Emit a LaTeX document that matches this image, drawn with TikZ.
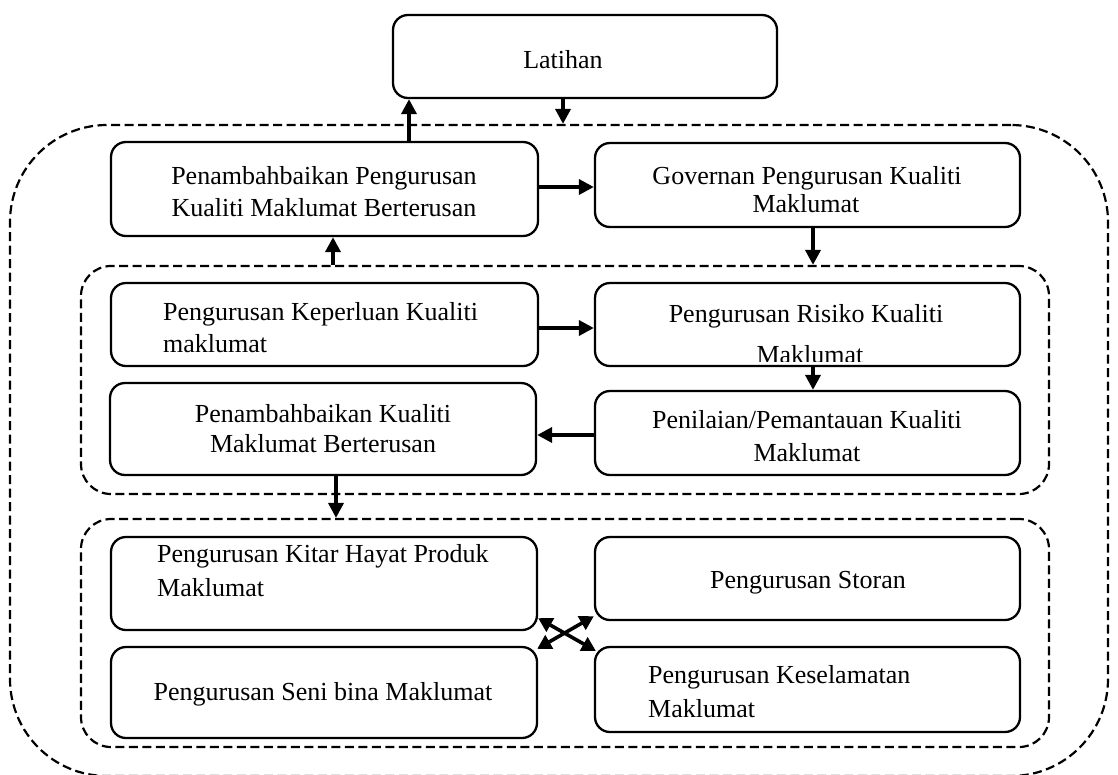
\documentclass[tikz,border=0pt]{standalone}
\usepackage{fontspec}
\setmainfont{Liberation Serif}
\usetikzlibrary{arrows.meta,calc}
\begin{document}
\begin{tikzpicture}[x=1pt,y=-1pt,
  box/.style={draw, line width=2.3pt, rounded corners=15pt, inner sep=0pt},
  grp/.style={draw, line width=2.2pt, dash pattern=on 9pt off 4.5pt, inner sep=0pt},
  lbl/.style={font=\fontsize{26}{30}\selectfont, inner sep=0pt},
  arr/.style={line width=3.6pt, -{Triangle[length=15pt,width=15pt]}},
  darr/.style={line width=3.6pt, {Triangle[length=14pt,width=15pt]}-{Triangle[length=14pt,width=15pt]}}]

\useasboundingbox (0,0) rectangle (1118,774);

% dashed groups
\node[grp, rounded corners=97pt, minimum width=1098pt, minimum height=651pt] (outer) at (559,450.5) {};
\node[grp, rounded corners=30pt, minimum width=968pt, minimum height=228pt] (g1) at (565,380) {};
\node[grp, rounded corners=30pt, minimum width=968pt, minimum height=228pt] (g2) at (565,633) {};

% boxes
\node[box, minimum width=384pt, minimum height=83pt] (lat) at (585,56.5) {};
\node[box, minimum width=427pt, minimum height=94pt] (b1) at (324.5,189) {};
\node[box, minimum width=425pt, minimum height=84pt] (b2) at (807.5,185) {};
\node[box, minimum width=427pt, minimum height=83pt] (b3) at (324.5,324.5) {};
\node[box, minimum width=425pt, minimum height=83pt] (b4) at (807.5,324.5) {};
\node[box, minimum width=426pt, minimum height=92pt] (b5) at (323,429) {};
\node[box, minimum width=425pt, minimum height=84pt] (b6) at (807.5,433) {};
\node[box, minimum width=426pt, minimum height=93pt] (b7) at (324,583.5) {};
\node[box, minimum width=425pt, minimum height=83pt] (b8) at (807.5,578.5) {};
\node[box, minimum width=426pt, minimum height=91pt] (b9) at (324,692.5) {};
\node[box, minimum width=425pt, minimum height=85pt] (b10) at (807.5,689.5) {};

% labels
\node[lbl, anchor=base] (tlat) at (563,68) {Latihan};
\node[lbl, anchor=base] (t1a) at (324,184) {Penambahbaikan Pengurusan};
\node[lbl, anchor=base] (t1b) at (324,216) {Kualiti Maklumat Berterusan};
\node[lbl, anchor=base] (t2a) at (807,184) {Governan Pengurusan Kualiti};
\node[lbl, anchor=base] (t2b) at (806,212) {Maklumat};
\node[lbl, anchor=base west] (t3a) at (163,320) {Pengurusan Keperluan Kualiti};
\node[lbl, anchor=base west] (t3b) at (163,352) {maklumat};
\node[lbl, anchor=base] (t4a) at (806,322.5) {Pengurusan Risiko Kualiti};
\begin{scope}
  \clip (597,340) rectangle (1018,361);
  \node[lbl, anchor=base] (t4b) at (810,363) {Maklumat};
\end{scope}
\node[lbl, anchor=base] (t5a) at (323,422.5) {Penambahbaikan Kualiti};
\node[lbl, anchor=base] (t5b) at (323,452.5) {Maklumat Berterusan};
\node[lbl, anchor=base] (t6a) at (807,428) {Penilaian/Pemantauan Kualiti};
\node[lbl, anchor=base] (t6b) at (807,461) {Maklumat};
\node[lbl, anchor=base west] (t7a) at (157,562) {Pengurusan Kitar Hayat Produk};
\node[lbl, anchor=base west] (t7b) at (157,596) {Maklumat};
\node[lbl, anchor=base] (t8) at (808,588) {Pengurusan Storan};
\node[lbl, anchor=base] (t9) at (323,700) {Pengurusan Seni bina Maklumat};
\node[lbl, anchor=base west] (t10a) at (648,683) {Pengurusan Keselamatan};
\node[lbl, anchor=base west] (t10b) at (648,717) {Maklumat};

% connector positions
\coordinate (ua) at (409,0);
\coordinate (da) at (563,0);
\coordinate (gb) at (813,0);
\coordinate (ub) at (333,0);
\coordinate (pc) at (336,0);
\coordinate (r3) at (0,187);
\coordinate (r6) at (0,328);
\coordinate (r8) at (0,435);

% connectors
\draw[arr] (b1.north -| ua) -- (lat.south -| ua);
\draw[arr] (lat.south -| da) -- (outer.north -| da);
\draw[arr] (b1.east |- r3) -- (b2.west |- r3);
\draw[arr] (b2.south -| gb) -- (g1.north -| gb);
\draw[arr] (g1.north -| ub) -- (b1.south -| ub);
\draw[arr] (b3.east |- r6) -- (b4.west |- r6);
\draw[arr] (b4.south -| gb) -- (b6.north -| gb);
\draw[arr] (b6.west |- r8) -- (b5.east |- r8);
\draw[arr] (b5.south -| pc) -- (g2.north -| pc);
\draw[darr] ($(b7.south east)+(0,-13)$) -- ($(b10.north west)+(2,5)$);
\draw[darr] ($(b8.south west)+(0,-5)$) -- ($(b9.north east)+(-1,3)$);
\end{tikzpicture}
\end{document}
